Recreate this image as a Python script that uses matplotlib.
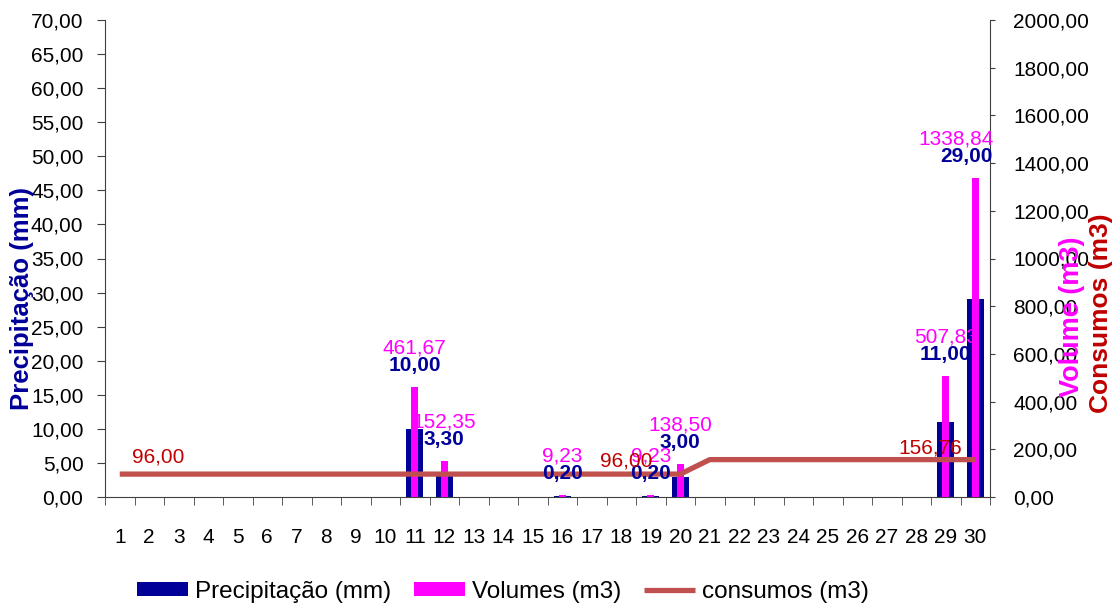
import matplotlib
matplotlib.use("Agg")
import matplotlib.pyplot as plt
from matplotlib.ticker import FuncFormatter, MultipleLocator

plt.rcParams['font.family'] = ['Liberation Sans', 'DejaVu Sans']

# data
days = list(range(1, 31))
precip_days = [11, 12, 16, 19, 20, 29, 30]
precip_mm = [10.00, 3.30, 0.20, 0.20, 3.00, 11.00, 29.00]
volumes_m3 = [461.67, 152.35, 9.23, 9.23, 138.50, 507.83, 1338.84]
consumos_m3 = [96.00] * 20 + [156.76] * 10
consumo_label_days = [1, 19, 29]

navy = '#000099'
magenta = '#FF00FF'
line_red = '#C0504D'
label_red = '#C00000'
axis_col = '#404040'


def virgula(v, pos=None):
    return f"{v:.2f}".replace('.', ',')


fig = plt.figure(figsize=(11.18, 6.05), dpi=100)
ax1 = fig.add_axes([105 / 1118, 1 - 497 / 605, 885 / 1118, 477 / 605])
ax2 = ax1.twinx()

b1 = ax1.bar(precip_days, precip_mm, width=0.58, color=navy, label='Precipitação (mm)')
b2 = ax2.bar(precip_days, volumes_m3, width=0.25, color=magenta, label='Volumes (m3)')
l1, = ax2.plot(days, consumos_m3, color=line_red, lw=3.8, solid_capstyle='butt',
               label='consumos (m3)', zorder=5)

ax1.set_xlim(0.5, 30.5)
ax1.set_ylim(0, 70)
ax2.set_ylim(0, 2000)
ax1.yaxis.set_major_locator(MultipleLocator(5))
ax2.yaxis.set_major_locator(MultipleLocator(200))
ax1.yaxis.set_major_formatter(FuncFormatter(virgula))
ax2.yaxis.set_major_formatter(FuncFormatter(virgula))

ax1.set_xticks(days)
ax1.set_xticklabels([str(d) for d in days])
ax1.set_xticks([d + 0.5 for d in [0] + days], minor=True)
ax1.tick_params(axis='x', which='major', length=0, pad=22, labelsize=15)
ax1.tick_params(axis='x', which='minor', length=5.5, direction='out', color=axis_col)
ax1.tick_params(axis='y', length=5.5, direction='out', color=axis_col, labelsize=15, pad=10)
ax2.tick_params(axis='y', length=3.6, direction='out', color=axis_col, labelsize=15, pad=13)

for ax in (ax1, ax2):
    ax.spines['top'].set_visible(False)
    for s in ('left', 'right', 'bottom'):
        ax.spines[s].set_color(axis_col)
ax1.spines['right'].set_visible(False)
ax2.spines['left'].set_visible(False)
ax2.spines['bottom'].set_visible(False)

# data labels (Excel stacks them above the volume bar)
for d, p, v in zip(precip_days, precip_mm, volumes_m3):
    dx = -19 if d == 30 else 0
    ax2.annotate(virgula(v), (d, v), xytext=(dx, 39), textcoords='offset pixels',
                 ha='center', va='center', color=magenta, fontsize=15, zorder=6,
                 annotation_clip=False)
    dx = -9 if d == 30 else 0
    ax2.annotate(virgula(p), (d, v), xytext=(dx, 21), textcoords='offset pixels',
                 ha='center', va='center', color=navy, fontsize=15, fontweight='bold',
                 zorder=6, annotation_clip=False)

cons_offsets = {1: (38, 17), 19: (-25, 13), 29: (-15, 12)}
for d in consumo_label_days:
    c = consumos_m3[d - 1]
    ax2.annotate(virgula(c), (d, c), xytext=cons_offsets[d], textcoords='offset pixels',
                 ha='center', va='center', color=label_red, fontsize=15, zorder=7)

fig.text(22 / 1118, 1 - 298 / 605, 'Precipitação (mm)', rotation=90, ha='center',
         va='center', color=navy, fontsize=18.5, fontweight='bold')
fig.text(1072 / 1118, 1 - 317 / 605, 'Volume (m3)', rotation=90, ha='center',
         va='center', color=magenta, fontsize=19.5, fontweight='bold')
fig.text(1101 / 1118, 1 - 313 / 605, 'Consumos (m3)', rotation=90, ha='center',
         va='center', color=label_red, fontsize=19, fontweight='bold')

fig.legend([b1, b2, l1], ['Precipitação (mm)', 'Volumes (m3)', 'consumos (m3)'],
           loc='center', bbox_to_anchor=(503 / 1118, 1 - 592 / 605), ncol=3,
           frameon=False, fontsize=17.5, handlelength=2.1, handleheight=0.5,
           handletextpad=0.29, columnspacing=0.95)

fig.savefig('out.png', dpi=100)
